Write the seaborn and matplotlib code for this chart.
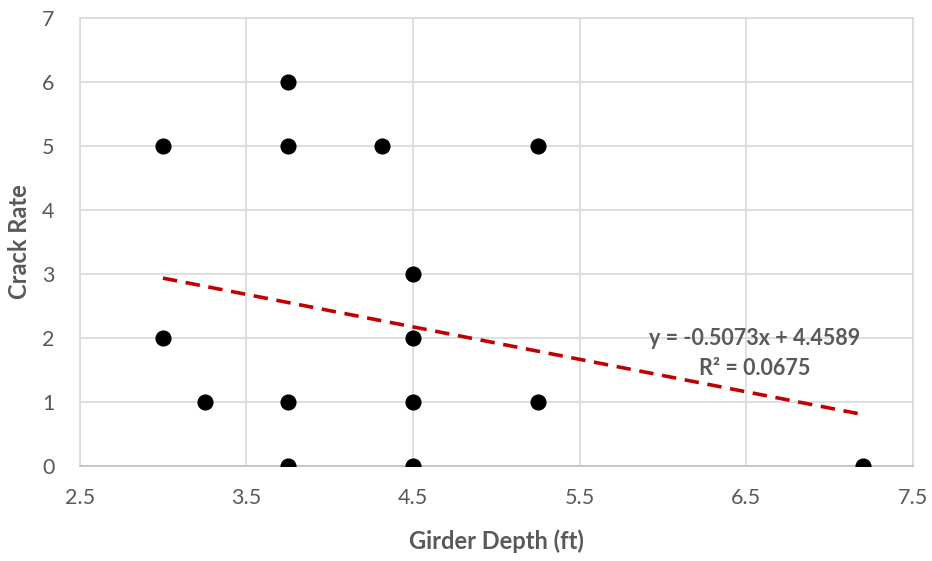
import matplotlib
matplotlib.use("Agg")
import matplotlib.pyplot as plt
import numpy as np
import pandas as pd
import seaborn as sns

# Data
girder_depth = [3.0, 3.0, 3.25, 3.75, 3.75, 3.75, 3.75, 4.3125, 4.5, 4.5, 4.5, 4.5, 5.25, 5.25, 7.2]
crack_rate = [5, 2, 1, 6, 5, 1, 0, 5, 3, 2, 1, 0, 5, 1, 0]

slope = -0.5073
intercept = 4.4589
r_squared = 0.0675

x_ticks = [2.5, 3.5, 4.5, 5.5, 6.5, 7.5]
y_ticks = [0, 1, 2, 3, 4, 5, 6, 7]


def main():
    sns.set_style("white")
    plt.rcParams['font.family'] = ['Lato', 'DejaVu Sans']

    df = pd.DataFrame({"depth": girder_depth, "rate": crack_rate})

    fig = plt.figure(figsize=(9.32, 5.61), dpi=100)
    ax = fig.add_axes([0.0854, 0.169, 0.8942, 0.799])

    # trendline over the data range
    xs = np.array([min(girder_depth), max(girder_depth)])
    trend = pd.DataFrame({"x": xs, "y": slope * xs + intercept})
    sns.lineplot(data=trend, x="x", y="y", ax=ax, color="#C00000",
                 linewidth=2.6, dashes=False, zorder=3)
    ax.lines[-1].set_dashes((4, 2.4))

    sns.scatterplot(data=df, x="depth", y="rate", ax=ax, color="black",
                    s=135, edgecolor="black", linewidth=0, zorder=4)

    ax.set_xlim(2.5, 7.5)
    ax.set_ylim(0, 7)
    ax.set_xticks(x_ticks)
    ax.set_yticks(y_ticks)
    ax.set_xticklabels([f"{t:.1f}" for t in x_ticks])
    ax.grid(True, color="#d9d9d9", linewidth=1.2)
    ax.set_axisbelow(True)
    for side in ["left", "top", "right"]:
        ax.spines[side].set_color("#d9d9d9")
        ax.spines[side].set_linewidth(1.2)
    ax.spines["bottom"].set_color("#bfbfbf")
    ax.spines["bottom"].set_linewidth(1.2)

    ax.tick_params(axis="both", length=0, labelsize=15.5, labelcolor="#595959")
    ax.tick_params(axis="y", pad=18)
    ax.tick_params(axis="x", pad=16)

    ax.set_xlabel("Girder Depth (ft)", fontsize=17, fontweight="bold",
                  color="#595959", labelpad=15)
    ax.set_ylabel("Crack Rate", fontsize=17, fontweight="bold",
                  color="#595959", labelpad=8)

    ax.text(6.55, 2.0, f"y = {slope}x + {intercept}", ha="center", va="center",
            fontsize=15.5, fontweight="bold", color="#595959")
    ax.text(6.55, 1.53, f"R² = {r_squared}", ha="center", va="center",
            fontsize=15.5, fontweight="bold", color="#595959")

    fig.savefig("out.png", dpi=100)
    plt.close(fig)


if __name__ == "__main__":
    main()
